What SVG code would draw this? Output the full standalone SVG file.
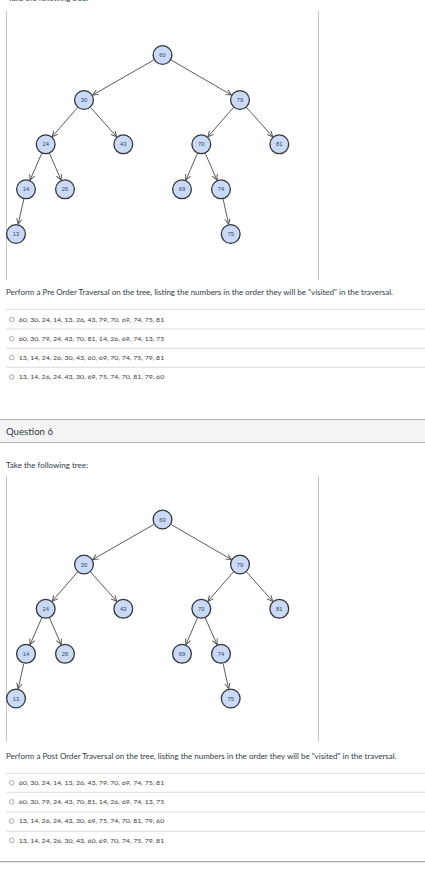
<svg xmlns="http://www.w3.org/2000/svg" width="425" height="871" viewBox="0 0 425 871">
<style>
.bg{fill:#ffffff}
.frame{stroke:#c4c4c4;stroke-width:1;fill:none}
.sep{stroke:#d4d4d4;stroke-width:0.8;fill:none}
.node circle{fill:#c9d9f8;stroke:#353535;stroke-width:1.3}
.node text{font-family:"Liberation Sans",Arial,sans-serif;font-size:5.8px;fill:#3b4456;text-anchor:middle;dominant-baseline:central}
.edges line{stroke:#4a4a4a;stroke-width:0.9;marker-end:url(#arr)}
.q{font-family:Lato,"Liberation Sans",sans-serif;font-size:7px;fill:#2d3b45}
.opt{font-family:Lato,"Liberation Sans",sans-serif;font-size:6.3px;fill:#3d3d3d}
.radio{fill:#ffffff;stroke:#8a8a8a;stroke-width:0.7}
</style>
<defs>
<marker id="arr" markerUnits="userSpaceOnUse" markerWidth="8" markerHeight="8" refX="6" refY="3" orient="auto">
<path d="M0.5,0.3 L6,3 L0.5,5.7" fill="none" stroke="#4a4a4a" stroke-width="0.9"/>
</marker>
</defs>
<rect class="bg" x="0" y="0" width="425" height="871"/>

<text class="q" x="8" y="1" textLength="80" lengthAdjust="spacingAndGlyphs">Take the following tree:</text>

<!-- Tree 1 frame -->
<g id="frame1">
<line class="frame" x1="6.5" y1="11" x2="6.5" y2="280"/>
<line class="frame" x1="318.5" y1="11" x2="318.5" y2="280"/>
</g>

<g id="tree1">
<g id="edges1" class="edges">
<line x1="153.8" y1="60" x2="92.7" y2="95"/>
<line x1="171.1" y1="60" x2="231.4" y2="95"/>
<line x1="77.5" y1="107.6" x2="52.2" y2="136.7"/>
<line x1="90.6" y1="107.5" x2="116.7" y2="136.8"/>
<line x1="233.4" y1="107.5" x2="207.9" y2="136.8"/>
<line x1="246.6" y1="107.5" x2="272.7" y2="136.8"/>
<line x1="41.7" y1="153.5" x2="30" y2="180.1"/>
<line x1="49.6" y1="153.5" x2="61.1" y2="180.1"/>
<line x1="197.4" y1="153.5" x2="185.9" y2="180.1"/>
<line x1="205.3" y1="153.5" x2="217" y2="180.1"/>
<line x1="23.8" y1="199.1" x2="18.2" y2="224.2"/>
<line x1="223.1" y1="199.1" x2="228.6" y2="224.2"/>
</g>
<g id="t1-60" class="node"><circle cx="162.5" cy="55" r="9.4"/><text x="162.5" y="55">60</text></g>
<g id="t1-30" class="node"><circle cx="84" cy="100" r="9.4"/><text x="84" y="100">30</text></g>
<g id="t1-79" class="node"><circle cx="240" cy="100" r="9.4"/><text x="240" y="100">79</text></g>
<g id="t1-24" class="node"><circle cx="45.7" cy="144.3" r="9.4"/><text x="45.7" y="144.3">24</text></g>
<g id="t1-43" class="node"><circle cx="123.3" cy="144.3" r="9.4"/><text x="123.3" y="144.3">43</text></g>
<g id="t1-70" class="node"><circle cx="201.3" cy="144.3" r="9.4"/><text x="201.3" y="144.3">70</text></g>
<g id="t1-81" class="node"><circle cx="279.3" cy="144.3" r="9.4"/><text x="279.3" y="144.3">81</text></g>
<g id="t1-14" class="node"><circle cx="26" cy="189.3" r="9.4"/><text x="26" y="189.3">14</text></g>
<g id="t1-26" class="node"><circle cx="65" cy="189.3" r="9.4"/><text x="65" y="189.3">26</text></g>
<g id="t1-69" class="node"><circle cx="182" cy="189.3" r="9.4"/><text x="182" y="189.3">69</text></g>
<g id="t1-74" class="node"><circle cx="221" cy="189.3" r="9.4"/><text x="221" y="189.3">74</text></g>
<g id="t1-13" class="node"><circle cx="16" cy="234" r="9.4"/><text x="16" y="234">13</text></g>
<g id="t1-75" class="node"><circle cx="230.7" cy="234" r="9.4"/><text x="230.7" y="234">75</text></g>
</g>

<text class="q" x="6" y="295" textLength="387" lengthAdjust="spacingAndGlyphs">Perform a Pre Order Traversal on the tree, listing the numbers in the order they will be "visited" in the traversal.</text>

<g id="options1">
<line class="sep" x1="6" y1="309.3" x2="425" y2="309.3"/>
<line class="sep" x1="6" y1="329" x2="425" y2="329"/>
<line class="sep" x1="6" y1="348.3" x2="425" y2="348.3"/>
<line class="sep" x1="6" y1="367.3" x2="425" y2="367.3"/>
<circle class="radio" cx="11.7" cy="319.4" r="2.3"/>
<text class="opt" x="18.7" y="321.6" textLength="145.5" lengthAdjust="spacingAndGlyphs">60, 30, 24, 14, 13, 26, 43, 79, 70, 69, 74, 75, 81</text>
<circle class="radio" cx="11.7" cy="338.6" r="2.3"/>
<text class="opt" x="18.7" y="340.8" textLength="145.5" lengthAdjust="spacingAndGlyphs">60, 30, 79, 24, 43, 70, 81, 14, 26, 69, 74, 13, 75</text>
<circle class="radio" cx="11.7" cy="357.6" r="2.3"/>
<text class="opt" x="18.7" y="359.8" textLength="145.5" lengthAdjust="spacingAndGlyphs">13, 14, 24, 26, 30, 43, 60, 69, 70, 74, 75, 79, 81</text>
<circle class="radio" cx="11.7" cy="377" r="2.3"/>
<text class="opt" x="18.7" y="379.2" textLength="145.5" lengthAdjust="spacingAndGlyphs">13, 14, 26, 24, 43, 30, 69, 75, 74, 70, 81, 79, 60</text>
</g>

<g id="header6">
<rect x="-1" y="419.5" width="427" height="23" fill="#f4f4f4" stroke="#a9a9a9" stroke-width="0.9"/>
<text x="6" y="435" font-family="Lato, 'Liberation Sans', sans-serif" font-size="9.5" fill="#2d3b45" textLength="47" lengthAdjust="spacingAndGlyphs">Question 6</text>
</g>

<text class="q" x="6" y="468" textLength="82" lengthAdjust="spacingAndGlyphs">Take the following tree:</text>

<g id="frame2">
<line class="frame" x1="6.5" y1="476.5" x2="6.5" y2="742"/>
<line class="frame" x1="318.5" y1="476.5" x2="318.5" y2="742"/>
</g>

<g id="tree2" transform="translate(0,464.5)">
<g id="edges2" class="edges">
<line x1="153.8" y1="60" x2="92.7" y2="95"/>
<line x1="171.1" y1="60" x2="231.4" y2="95"/>
<line x1="77.5" y1="107.6" x2="52.2" y2="136.7"/>
<line x1="90.6" y1="107.5" x2="116.7" y2="136.8"/>
<line x1="233.4" y1="107.5" x2="207.9" y2="136.8"/>
<line x1="246.6" y1="107.5" x2="272.7" y2="136.8"/>
<line x1="41.7" y1="153.5" x2="30" y2="180.1"/>
<line x1="49.6" y1="153.5" x2="61.1" y2="180.1"/>
<line x1="197.4" y1="153.5" x2="185.9" y2="180.1"/>
<line x1="205.3" y1="153.5" x2="217" y2="180.1"/>
<line x1="23.8" y1="199.1" x2="18.2" y2="224.2"/>
<line x1="223.1" y1="199.1" x2="228.6" y2="224.2"/>
</g>
<g id="t2-60" class="node"><circle cx="162.5" cy="55" r="9.4"/><text x="162.5" y="55">60</text></g>
<g id="t2-30" class="node"><circle cx="84" cy="100" r="9.4"/><text x="84" y="100">30</text></g>
<g id="t2-79" class="node"><circle cx="240" cy="100" r="9.4"/><text x="240" y="100">79</text></g>
<g id="t2-24" class="node"><circle cx="45.7" cy="144.3" r="9.4"/><text x="45.7" y="144.3">24</text></g>
<g id="t2-43" class="node"><circle cx="123.3" cy="144.3" r="9.4"/><text x="123.3" y="144.3">43</text></g>
<g id="t2-70" class="node"><circle cx="201.3" cy="144.3" r="9.4"/><text x="201.3" y="144.3">70</text></g>
<g id="t2-81" class="node"><circle cx="279.3" cy="144.3" r="9.4"/><text x="279.3" y="144.3">81</text></g>
<g id="t2-14" class="node"><circle cx="26" cy="189.3" r="9.4"/><text x="26" y="189.3">14</text></g>
<g id="t2-26" class="node"><circle cx="65" cy="189.3" r="9.4"/><text x="65" y="189.3">26</text></g>
<g id="t2-69" class="node"><circle cx="182" cy="189.3" r="9.4"/><text x="182" y="189.3">69</text></g>
<g id="t2-74" class="node"><circle cx="221" cy="189.3" r="9.4"/><text x="221" y="189.3">74</text></g>
<g id="t2-13" class="node"><circle cx="16" cy="234" r="9.4"/><text x="16" y="234">13</text></g>
<g id="t2-75" class="node"><circle cx="230.7" cy="234" r="9.4"/><text x="230.7" y="234">75</text></g>
</g>

<text class="q" x="6" y="759" textLength="390.5" lengthAdjust="spacingAndGlyphs">Perform a Post Order Traversal on the tree, listing the numbers in the order they will be "visited" in the traversal.</text>

<g id="options2">
<line class="sep" x1="6" y1="773.3" x2="425" y2="773.3"/>
<line class="sep" x1="6" y1="792.3" x2="425" y2="792.3"/>
<line class="sep" x1="6" y1="812" x2="425" y2="812"/>
<line class="sep" x1="6" y1="831.3" x2="425" y2="831.3"/>
<circle class="radio" cx="11.7" cy="782.8" r="2.3"/>
<text class="opt" x="18.7" y="785" textLength="145.5" lengthAdjust="spacingAndGlyphs">60, 30, 24, 14, 13, 26, 43, 79, 70, 69, 74, 75, 81</text>
<circle class="radio" cx="11.7" cy="801.9" r="2.3"/>
<text class="opt" x="18.7" y="804.1" textLength="145.5" lengthAdjust="spacingAndGlyphs">60, 30, 79, 24, 43, 70, 81, 14, 26, 69, 74, 13, 75</text>
<circle class="radio" cx="11.7" cy="821.1" r="2.3"/>
<text class="opt" x="18.7" y="823.3" textLength="145.5" lengthAdjust="spacingAndGlyphs">13, 14, 26, 24, 43, 30, 69, 75, 74, 70, 81, 79, 60</text>
<circle class="radio" cx="11.7" cy="840.3" r="2.3"/>
<text class="opt" x="18.7" y="842.5" textLength="145.5" lengthAdjust="spacingAndGlyphs">13, 14, 24, 26, 30, 43, 60, 69, 70, 74, 75, 79, 81</text>
</g>

<line x1="0" y1="861.7" x2="425" y2="861.7" stroke="#a9a9a9" stroke-width="1.3"/>
</svg>
